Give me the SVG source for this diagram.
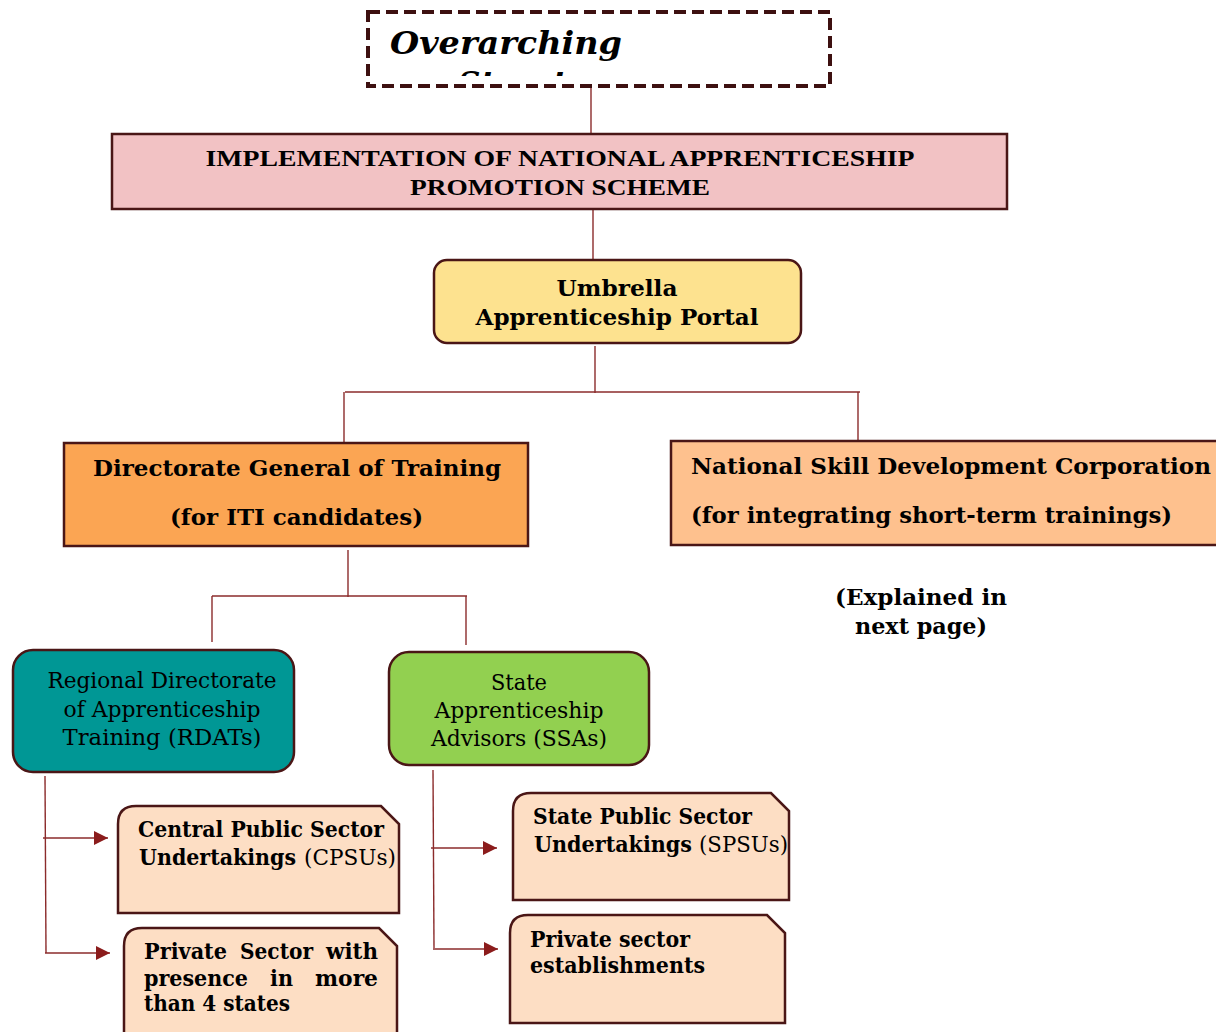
<svg xmlns="http://www.w3.org/2000/svg" width="1216" height="1032" viewBox="0 0 1216 1032">
<defs>
<style>
.b{font-family:"DejaVu Serif","Liberation Serif",serif;font-weight:bold;font-size:22px;fill:#000}
.r{font-family:"DejaVu Serif","Liberation Serif",serif;font-weight:normal;font-size:22px;fill:#000}
.box{stroke:#4a1616;stroke-width:2.5}
.ln{stroke:#8b2b2b;stroke-width:1.4;fill:none}
.snip{fill:#fddec4;stroke:#4a1616;stroke-width:2.5}
</style>
<marker id="ah" viewBox="0 0 10 10" refX="10" refY="5" markerWidth="14" markerHeight="14" markerUnits="userSpaceOnUse" orient="auto">
<path d="M0,0 L10,5 L0,10 Z" fill="#8b1c1c"/>
</marker>
<clipPath id="clipTop"><rect x="370" y="14" width="458" height="62"/></clipPath>
</defs>

<g id="connectors">
<line class="ln" x1="591" y1="86" x2="591" y2="134"/>
<line class="ln" x1="593" y1="209" x2="593" y2="260"/>
<line class="ln" x1="595" y1="346" x2="595" y2="393"/>
<line class="ln" x1="345" y1="392" x2="860" y2="392"/>
<line class="ln" x1="344" y1="392" x2="344" y2="442"/>
<line class="ln" x1="858" y1="392" x2="858" y2="440"/>
<line class="ln" x1="348" y1="550" x2="348" y2="597"/>
<line class="ln" x1="212" y1="596" x2="467" y2="596"/>
<line class="ln" x1="212" y1="596" x2="212" y2="642"/>
<line class="ln" x1="466" y1="596" x2="466" y2="645"/>
<line class="ln" x1="45" y1="776" x2="46" y2="953"/>
<line class="ln" x1="43" y1="838" x2="108" y2="838" marker-end="url(#ah)"/>
<line class="ln" x1="45" y1="953" x2="110" y2="953" marker-end="url(#ah)"/>
<line class="ln" x1="433" y1="770" x2="434" y2="948"/>
<line class="ln" x1="431" y1="848" x2="497" y2="848" marker-end="url(#ah)"/>
<line class="ln" x1="433" y1="949" x2="498" y2="949" marker-end="url(#ah)"/>
</g>

<g id="overarching">
<rect x="368" y="12" width="462" height="74" fill="#fff" stroke="#3d1010" stroke-width="4" stroke-dasharray="12,6"/>
<g clip-path="url(#clipTop)">
<text x="390" y="54" font-family="DejaVu Serif, Liberation Serif, serif" font-weight="bold" font-style="italic" font-size="31" textLength="232" lengthAdjust="spacingAndGlyphs">Overarching</text>
<text x="458" y="94" font-family="DejaVu Serif, Liberation Serif, serif" font-weight="bold" font-style="italic" font-size="31">Structure</text>
</g>
</g>

<g id="napsscheme">
<rect class="box" x="112" y="134" width="895" height="75" fill="#f2c2c4"/>
<text x="560" y="166" text-anchor="middle" font-family="Liberation Serif, serif" font-weight="bold" font-size="24" textLength="709" lengthAdjust="spacingAndGlyphs">IMPLEMENTATION OF NATIONAL APPRENTICESHIP</text>
<text x="560" y="195" text-anchor="middle" font-family="Liberation Serif, serif" font-weight="bold" font-size="24" textLength="300" lengthAdjust="spacingAndGlyphs">PROMOTION SCHEME</text>
</g>

<g id="umbrella">
<rect class="box" x="434" y="260" width="367" height="83" rx="13" fill="#fde28f"/>
<text class="b" x="617" y="296" text-anchor="middle" textLength="121" lengthAdjust="spacingAndGlyphs">Umbrella</text>
<text class="b" x="617" y="325" text-anchor="middle" textLength="283" lengthAdjust="spacingAndGlyphs">Apprenticeship Portal</text>
</g>

<g id="dgt">
<rect class="box" x="64" y="443" width="464" height="103" fill="#fba553"/>
<text class="b" x="93" y="476" textLength="408" lengthAdjust="spacingAndGlyphs">Directorate General of Training</text>
<text class="b" x="170" y="525" textLength="253" lengthAdjust="spacingAndGlyphs">(for ITI candidates)</text>
</g>

<g id="nsdc">
<rect class="box" x="671" y="441" width="560" height="104" fill="#fec18e"/>
<text class="b" x="691" y="474" textLength="520" lengthAdjust="spacingAndGlyphs">National Skill Development Corporation</text>
<text class="b" x="691" y="523" textLength="481" lengthAdjust="spacingAndGlyphs">(for integrating short-term trainings)</text>
</g>

<g id="explained">
<text class="b" x="921" y="605" text-anchor="middle" textLength="172" lengthAdjust="spacingAndGlyphs">(Explained in</text>
<text class="b" x="921" y="634" text-anchor="middle" textLength="132" lengthAdjust="spacingAndGlyphs">next page)</text>
</g>

<g id="rdat">
<rect class="box" x="13" y="650" width="281" height="122" rx="20" fill="#009795"/>
<text class="r" x="162" y="688" text-anchor="middle" textLength="229" lengthAdjust="spacingAndGlyphs">Regional Directorate</text>
<text class="r" x="162" y="717" text-anchor="middle" textLength="197" lengthAdjust="spacingAndGlyphs">of Apprenticeship</text>
<text class="r" x="162" y="745" text-anchor="middle" textLength="199" lengthAdjust="spacingAndGlyphs">Training (RDATs)</text>
</g>

<g id="ssa">
<rect class="box" x="389" y="652" width="260" height="113" rx="20" fill="#92d050"/>
<text class="r" x="519" y="690" text-anchor="middle" textLength="56" lengthAdjust="spacingAndGlyphs">State</text>
<text class="r" x="519" y="718" text-anchor="middle" textLength="169" lengthAdjust="spacingAndGlyphs">Apprenticeship</text>
<text class="r" x="519" y="746" text-anchor="middle" textLength="176" lengthAdjust="spacingAndGlyphs">Advisors (SSAs)</text>
</g>

<g id="cpsu">
<path class="snip" d="M136,806 L381,806 L399,824 L399,913 L118,913 L118,824 Q118,806 136,806 Z"/>
<text class="b" x="138" y="837" textLength="246" lengthAdjust="spacingAndGlyphs">Central Public Sector</text>
<text class="b" x="139" y="865" textLength="157" lengthAdjust="spacingAndGlyphs">Undertakings</text>
<text class="r" x="304" y="865" textLength="92" lengthAdjust="spacingAndGlyphs">(CPSUs)</text>
</g>

<g id="privatecentral">
<path class="snip" d="M142,928 L379,928 L397,946 L397,1040 L124,1040 L124,946 Q124,928 142,928 Z"/>
<text class="b" x="144" y="959" textLength="83" lengthAdjust="spacingAndGlyphs">Private</text>
<text class="b" x="240" y="959" textLength="73" lengthAdjust="spacingAndGlyphs">Sector</text>
<text class="b" x="326" y="959" textLength="52" lengthAdjust="spacingAndGlyphs">with</text>
<text class="b" x="144" y="986" textLength="104" lengthAdjust="spacingAndGlyphs">presence</text>
<text class="b" x="270" y="986" textLength="23" lengthAdjust="spacingAndGlyphs">in</text>
<text class="b" x="315" y="986" textLength="63" lengthAdjust="spacingAndGlyphs">more</text>
<text class="b" x="144" y="1011" textLength="146" lengthAdjust="spacingAndGlyphs">than 4 states</text>
</g>

<g id="spsu">
<path class="snip" d="M531,793 L771,793 L789,811 L789,900 L513,900 L513,811 Q513,793 531,793 Z"/>
<text class="b" x="533" y="824" textLength="219" lengthAdjust="spacingAndGlyphs">State Public Sector</text>
<text class="b" x="534" y="852" textLength="158" lengthAdjust="spacingAndGlyphs">Undertakings</text>
<text class="r" x="699" y="852" textLength="89" lengthAdjust="spacingAndGlyphs">(SPSUs)</text>
</g>

<g id="privatestate">
<path class="snip" d="M528,915 L767,915 L785,933 L785,1023 L510,1023 L510,933 Q510,915 528,915 Z"/>
<text class="b" x="530" y="947" textLength="160" lengthAdjust="spacingAndGlyphs">Private sector</text>
<text class="b" x="530" y="973" textLength="175" lengthAdjust="spacingAndGlyphs">establishments</text>
</g>
</svg>
